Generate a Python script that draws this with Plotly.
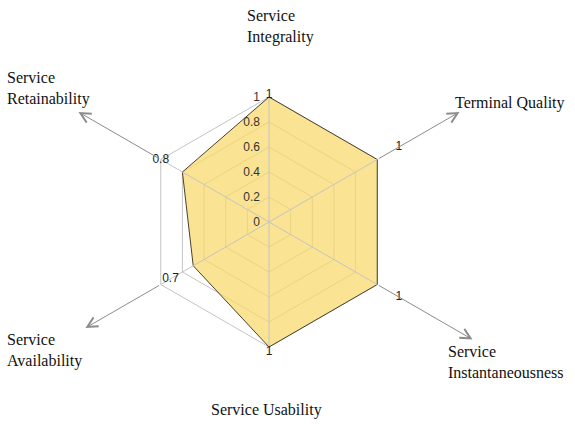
import math
import plotly.graph_objects as go

# ---------------- data ----------------
categories = ["Service Integrality", "Terminal Quality", "Service Instantaneousness",
              "Service Usability", "Service Availability", "Service Retainability"]
values = [1, 1, 1, 1, 0.7, 0.8]
value_labels = ["1", "1", "1", "1", "0.7", "0.8"]
radial_ticks = [0, 0.2, 0.4, 0.6, 0.8, 1]
radial_ticktext = ["0", "0.2", "0.4", "0.6", "0.8", "1"]
axis_titles = ["Service<br>Integrality", "Terminal Quality", "Service<br>Instantaneousness",
               "Service Usability", "Service<br>Availability", "Service<br>Retainability"]

# ---------------- layout helpers ----------------
W, H = 575, 428
CX, CY, R = 269, 222, 125          # centre and pixel radius of value 1
RMAX = 1.2                         # radial range max (room for labels)
RP = R * RMAX                      # pixel radius of polar domain
angles = [90, 30, -30, -90, -150, 150]          # screen angle of each category axis
arrow_len = [167, 220, 235, 176, 212, 220]       # pixel distance of arrow tip from centre
label_r = [1.02, 1.2, 1.2, 1.04, 0.91, 1.0]      # radial position of value labels
title_pos = [(245, 27), (453, 103), (446, 362), (209, 410), (5, 350), (5, 89)]
PAD = "\u00a0\u00a0"                             # tick-label offset from the axis

GRID = "#c4c4c4"
ARROW = "#8c8c8c"

fig = go.Figure()

fig.add_trace(go.Scatterpolar(
    r=values + values[:1],
    theta=categories + categories[:1],
    mode="lines",
    fill="toself",
    fillcolor="rgba(248,216,104,0.72)",
    line=dict(color="#4a4030", width=1),
    hoverinfo="skip",
    showlegend=False,
))

# spokes from centre to value 1
spoke_r, spoke_t = [], []
for c in categories:
    spoke_r += [0, 1, None]
    spoke_t += [c, c, c]
fig.add_trace(go.Scatterpolar(
    r=spoke_r, theta=spoke_t, mode="lines",
    line=dict(color=GRID, width=1),
    hoverinfo="skip", showlegend=False,
))

fig.add_trace(go.Scatterpolar(
    r=label_r,
    theta=categories,
    mode="text",
    text=value_labels,
    textposition="middle center",
    textfont=dict(family="Liberation Sans, Arial", size=12, color="#222"),
    cliponaxis=False,
    hoverinfo="skip",
    showlegend=False,
))

annotations = []
for ang, L in zip(angles, arrow_len):
    a = math.radians(ang)
    hx = CX + L * math.cos(a)
    hy = CY - L * math.sin(a)
    start = L - 3 if ang in (90, -90) else R
    tail = L - start
    annotations.append(dict(
        x=hx / W, y=1 - hy / H, xref="paper", yref="paper",
        ax=-tail * math.cos(a), ay=tail * math.sin(a),
        showarrow=True, arrowhead=5, arrowsize=2, arrowwidth=1,
        arrowcolor=ARROW, text="",
    ))

for txt, (px, py) in zip(axis_titles, title_pos):
    annotations.append(dict(
        x=px / W, y=1 - py / H, xref="paper", yref="paper",
        xanchor="left", yanchor="middle", align="left",
        text=txt, showarrow=False,
        font=dict(family="Liberation Serif, Times New Roman", size=16, color="#111"),
    ))

fig.update_layout(
    width=W, height=H,
    margin=dict(l=0, r=0, t=0, b=0),
    paper_bgcolor="white",
    plot_bgcolor="white",
    annotations=annotations,
    polar=dict(
        domain=dict(x=[(CX - RP) / W, (CX + RP) / W], y=[(H - CY - RP) / H, (H - CY + RP) / H]),
        bgcolor="rgba(0,0,0,0)",
        gridshape="linear",
        radialaxis=dict(
            range=[0, RMAX], tickvals=radial_ticks,
            ticktext=[t + PAD for t in radial_ticktext],
            angle=90, side="counterclockwise", ticks="", tickangle=90,
            showline=False,
            gridcolor=GRID, gridwidth=1, layer="above traces",
            tickfont=dict(family="Liberation Sans, Arial", size=12, color="#333"),
        ),
        angularaxis=dict(
            categoryorder="array", categoryarray=categories,
            direction="clockwise", rotation=90,
            showticklabels=False, ticks="",
            showline=False, showgrid=False,
        ),
    ),
)

fig.write_html("out.html")
